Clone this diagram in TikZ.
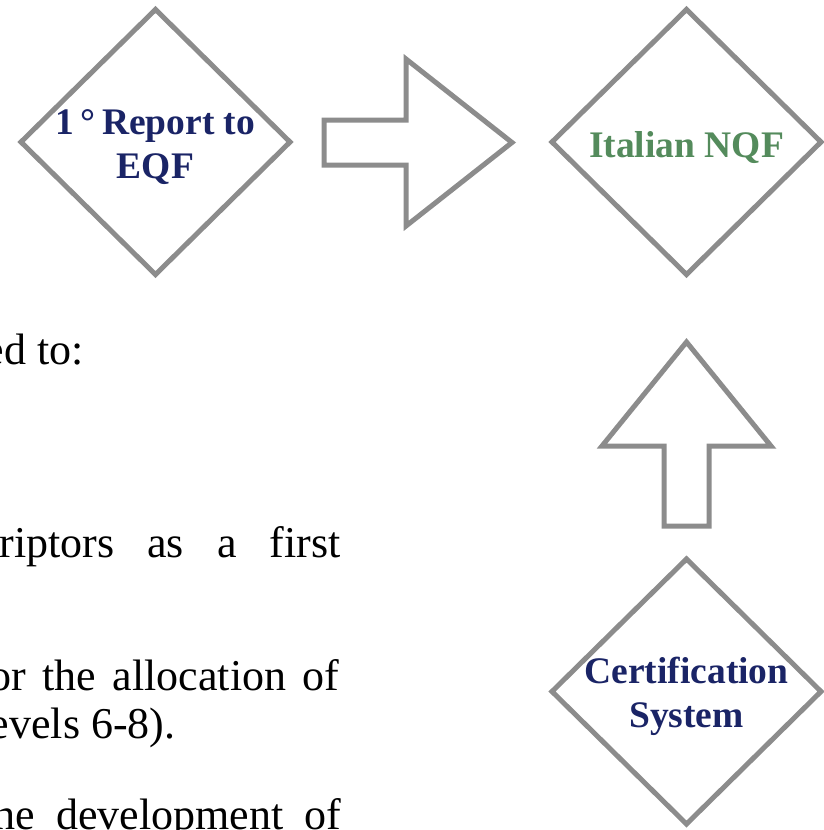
\documentclass[tikz,border=0pt]{standalone}
\usepackage{fontspec}
\setmainfont{Liberation Serif}
\usepackage{xcolor}
\usepackage{tikz}
\usetikzlibrary{shapes.geometric}

\definecolor{framegray}{RGB}{140,140,140}
\definecolor{navytext}{RGB}{26,36,102}
\definecolor{nqfgreen}{RGB}{84,139,92}

\begin{document}
\begin{tikzpicture}[
		%Global config
		x=1pt, y=-1pt,
		line width=5pt,
		%Styles
		Diam/.style={
			diamond,
			draw=framegray,
			minimum width=269pt,
			minimum height=265pt,
			inner sep=0pt,
			outer sep=0pt,
		},
		Label/.style={
			font=\fontsize{37.5}{44}\selectfont\bfseries,
			align=center,
			inner sep=0pt,
		},
		Body/.style={
			font=\fontsize{44}{48}\selectfont,
			anchor=base east,
			inner sep=0pt,
		},
		Block/.style={
			draw=framegray,
			line join=miter,
		}
		]
		\useasboundingbox (0,0) rectangle (823,830);

		% Diamonds
		\node[Diam] (EQF) at (155.5,142) {};
		\node[Diam] (NQF) at (686.5,142) {};
		\node[Diam] (Cert) at (686.5,691.5) {};
		\node[Label, navytext, yshift=-5pt] (EQFtext) at (EQF) {1\,°\,Report to\\EQF};
		\node[Label, nqfgreen, yshift=-6pt] (NQFtext) at (NQF) {Italian NQF};
		\node[Label, navytext, yshift=-5pt] (Certtext) at (Cert) {Certification\\System};

		% Block arrows
		\draw[Block] (324,120) --++(82,0) --++(0,-61) --++(106,83.5) --++(-106,83.5) --++(0,-61) --++(-82,0) -- cycle;
		\draw[Block] (664,526) --++(0,-80) --++(-62,0) --++(84.5,-104) --++(84.5,104) --++(-62,0) --++(0,80) -- cycle;

		% Text cut at the left
		\node[Body] (line1) at (86,364) {ed to:};
		\node[Body] (line2) at (343,557) {\makebox[341pt][s]{riptors as a first}};
		\node[Body] (line3) at (342,690) {\makebox[350pt][s]{or the allocation of}};
		\node[Body] (line4) at (178,738) {evels 6-8).};
		\node[Body] (line5) at (344,829) {\makebox[348pt][s]{he development of}};
	\end{tikzpicture}
\end{document}
